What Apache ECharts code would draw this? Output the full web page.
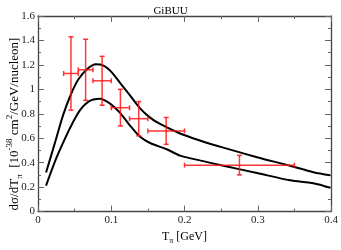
<!DOCTYPE html>
<html><head><meta charset="utf-8">
<script src="https://cdn.jsdelivr.net/npm/echarts@6/dist/echarts.min.js"></script>
<style>html,body{margin:0;padding:0;background:#fff}#c{width:341px;height:250px}</style>
</head><body><div id="c"></div>
<script>
const title = 'GiBUU';
const yTitle = 'dσ/dT{s|π}  [10{p|-38} cm{p|2}/GeV/nucleon]';
const xTitle = 'T{s|π} [GeV]';
const xTicks = [0, 0.1, 0.2, 0.3, 0.4];
const yTicks = [0, 0.2, 0.4, 0.6, 0.8, 1, 1.2, 1.4, 1.6];
// data points with errors
const ptX    = [0.045, 0.065, 0.0875, 0.1125, 0.1375, 0.175, 0.275];
const ptXlo  = [0.035, 0.055, 0.075, 0.1, 0.125, 0.15, 0.2];
const ptXhi  = [0.055, 0.075, 0.1, 0.125, 0.15, 0.2, 0.35];
const ptY    = [1.13, 1.16, 1.07, 0.85, 0.76, 0.66, 0.38];
const ptYlo  = [0.83, 0.91, 0.87, 0.70, 0.62, 0.55, 0.30];
const ptYhi  = [1.43, 1.41, 1.27, 1.00, 0.90, 0.77, 0.46];
// upper curve
const upX = [0.011, 0.023, 0.0346, 0.045, 0.055, 0.068, 0.079, 0.0846, 0.098, 0.112, 0.1256, 0.139, 0.153, 0.1666, 0.194, 0.221, 0.253, 0.299, 0.344, 0.376, 0.399];
const upY = [0.32, 0.56, 0.795, 0.96, 1.08, 1.17, 1.205, 1.204, 1.157, 1.053, 0.95, 0.847, 0.769, 0.717, 0.639, 0.582, 0.523, 0.445, 0.375, 0.322, 0.297];
// lower curve
const loX = [0.011, 0.028, 0.0535, 0.069, 0.0846, 0.098, 0.112, 0.1256, 0.139, 0.153, 0.1757, 0.194, 0.221, 0.253, 0.299, 0.344, 0.376, 0.399];
const loY = [0.212, 0.48, 0.795, 0.90, 0.924, 0.885, 0.808, 0.704, 0.614, 0.561, 0.51, 0.458, 0.419, 0.375, 0.316, 0.256, 0.232, 0.195];

const FONT = 'Liberation Serif, Times New Roman, serif';
const upData = upX.map((x, i) => [x, upY[i]]);
const loData = loX.map((x, i) => [x, loY[i]]);
const errData = ptX.map((x, i) => [x, ptY[i], ptXlo[i], ptXhi[i], ptYlo[i], ptYhi[i]]);

const axisCommon = {
  axisLine: {show: true, onZero: false, lineStyle: {color: '#444', width: 1.3}},
  axisTick: {show: true, inside: true, length: 6, lineStyle: {color: '#666', width: 1}},
  minorTick: {show: true, splitNumber: 2, length: 3, lineStyle: {color: '#666', width: 1}},
  splitLine: {show: false}
};

const chart = echarts.init(document.getElementById('c'), null, {renderer: 'canvas'});
chart.setOption({
  animation: false,
  backgroundColor: '#fff',
  title: {text: title, left: 'center', top: 1, textStyle: {fontFamily: FONT, fontSize: 11, fontWeight: 'normal', color: '#000'}},
  grid: {left: 38, right: 10, top: 16, bottom: 28},
  graphic: [{
    type: 'text', x: 15, y: 124, rotation: Math.PI / 2,
    style: {text: yTitle, fontFamily: FONT, fontSize: 13, fill: '#000', align: 'center', verticalAlign: 'middle',
      rich: {s: {fontFamily: FONT, fontSize: 9, padding: [10, 0, 0, 0]}, p: {fontFamily: FONT, fontSize: 9, padding: [0, 0, 10, 0]}}}
  }],
  xAxis: [
    Object.assign({type: 'value', min: xTicks[0], max: xTicks[xTicks.length-1], interval: 0.1, position: 'bottom',
      axisLabel: {fontFamily: FONT, fontSize: 11, color: '#222', margin: 3},
      name: xTitle, nameLocation: 'middle', nameGap: 15,
      nameTextStyle: {fontFamily: FONT, fontSize: 12, color: '#000', rich: {s: {fontFamily: FONT, fontSize: 8, padding: [9, 0, 0, 0]}}}
    }, axisCommon),
    Object.assign({type: 'value', min: xTicks[0], max: xTicks[xTicks.length-1], interval: 0.1, position: 'top',
      axisLabel: {show: false}}, axisCommon)
  ],
  yAxis: [
    Object.assign({type: 'value', min: yTicks[0], max: yTicks[yTicks.length-1], interval: 0.2, position: 'left',
      axisLabel: {fontFamily: FONT, fontSize: 11, color: '#222', margin: 3}}, axisCommon),
    Object.assign({type: 'value', min: yTicks[0], max: yTicks[yTicks.length-1], interval: 0.2, position: 'right',
      axisLabel: {show: false}}, axisCommon)
  ],
  series: [
    {type: 'line', data: upData, smooth: 0.3, showSymbol: false, lineStyle: {color: '#000', width: 2}, xAxisIndex: 0, yAxisIndex: 0},
    {type: 'line', data: loData, smooth: 0.3, showSymbol: false, lineStyle: {color: '#000', width: 2}, xAxisIndex: 0, yAxisIndex: 0},
    {type: 'custom', data: errData, xAxisIndex: 0, yAxisIndex: 0, z: 5,
      renderItem: function (params, api) {
        const x = api.value(0), y = api.value(1);
        const c = api.coord([x, y]);
        const xl = api.coord([api.value(2), y]);
        const xh = api.coord([api.value(3), y]);
        const yl = api.coord([x, api.value(4)]);
        const yh = api.coord([x, api.value(5)]);
        const st = {stroke: 'rgba(255,20,20,0.85)', lineWidth: 1.5};
        const cap = 2.5;
        return {type: 'group', children: [
          {type: 'line', shape: {x1: xl[0], y1: c[1], x2: xh[0], y2: c[1]}, style: st},
          {type: 'line', shape: {x1: c[0], y1: yl[1], x2: c[0], y2: yh[1]}, style: st},
          {type: 'line', shape: {x1: xl[0], y1: c[1]-cap, x2: xl[0], y2: c[1]+cap}, style: st},
          {type: 'line', shape: {x1: xh[0], y1: c[1]-cap, x2: xh[0], y2: c[1]+cap}, style: st},
          {type: 'line', shape: {x1: c[0]-cap, y1: yl[1], x2: c[0]+cap, y2: yl[1]}, style: st},
          {type: 'line', shape: {x1: c[0]-cap, y1: yh[1], x2: c[0]+cap, y2: yh[1]}, style: st}
        ]};
      }
    }
  ]
});
</script></body></html>
